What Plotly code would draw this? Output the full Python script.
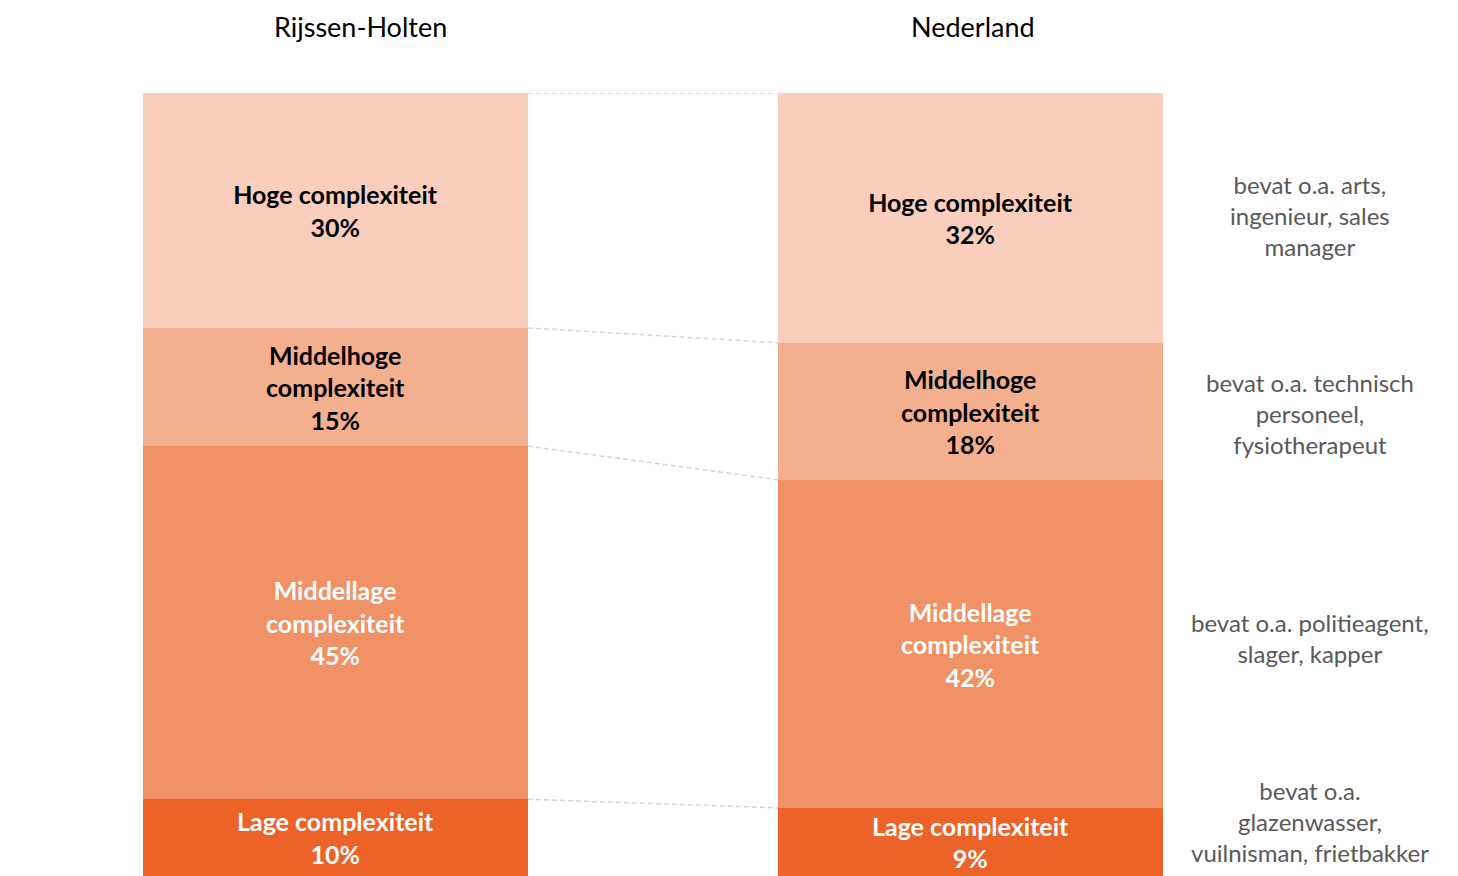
import plotly.graph_objects as go

regions = ["Rijssen-Holten", "Nederland"]
categories = ["Lage complexiteit", "Middellage complexiteit", "Middelhoge complexiteit", "Hoge complexiteit"]
label_lines = ["Lage complexiteit", "Middellage<br>complexiteit", "Middelhoge<br>complexiteit", "Hoge complexiteit"]
rijssen_values = [9.8, 45.1, 15.1, 30.0]
nederland_values = [8.7, 41.9, 17.5, 31.9]
examples = [
    "bevat o.a.<br>glazenwasser,<br>vuilnisman, frietbakker",
    "bevat o.a. politieagent,<br>slager, kapper",
    "bevat o.a. technisch<br>personeel,<br>fysiotherapeut",
    "bevat o.a. arts,<br>ingenieur, sales<br>manager",
]

colors = ["#EC6227", "#F09266", "#F4AF8F", "#F9CEBC"]
text_colors = ["white", "white", "black", "black"]
FONT = "Lato"
bar_w = 0.606
xs = [0, 1]

fig = go.Figure()
series = [rijssen_values, nederland_values]
for i, cat in enumerate(categories):
    vals = [s[i] for s in series]
    fig.add_trace(go.Bar(
        x=xs, y=vals, width=bar_w, name=cat,
        marker=dict(color=colors[i], line=dict(width=0)),
        text=[f"<b>{label_lines[i]}<br>{round(v)}%</b>" for v in vals],
        textposition="inside", insidetextanchor="middle",
        textfont=dict(family=FONT, size=25, color=text_colors[i]),
        hoverinfo="skip",
    ))

# connector lines
for k in range(1, len(categories) + 1):
    y0 = sum(rijssen_values[:k])
    y1 = sum(nederland_values[:k])
    fig.add_shape(type="line", xref="x", yref="y",
                  x0=xs[0] + bar_w / 2, x1=xs[1] - bar_w / 2, y0=y0, y1=y1,
                  line=dict(color="#D6D6D6", width=1.5, dash="5px,3px"))

# right side descriptions
ann_y = [6.9, 30.4, 59.1, 84.3]
for i, t in enumerate(examples):
    fig.add_annotation(x=1.0173, y=ann_y[i], xref="paper", yref="y", text=t,
                       showarrow=False, xanchor="center", yanchor="middle",
                       font=dict(family=FONT, size=24, color="#595959"))

# column titles
title_x = [0.04, 1.004]
for r, tx in zip(regions, title_x):
    fig.add_annotation(x=tx, y=1.1086, xref="x", yref="paper", text=r,
                       showarrow=False, xanchor="center", yanchor="top",
                       font=dict(family=FONT, size=27, color="black"))

fig.update_layout(
    barmode="stack", width=1458, height=876,
    margin=dict(l=10, r=178, t=85, b=8),
    paper_bgcolor="white", plot_bgcolor="white",
    showlegend=False, bargap=0,
    uniformtext=dict(minsize=25, mode="show"),
    xaxis=dict(range=[-0.5, 1.5], showticklabels=False, showgrid=False, zeroline=False,
               showline=True, linecolor="#EDEDED", linewidth=1, layer="below traces",
               fixedrange=True),
    yaxis=dict(range=[0, 100], visible=False, fixedrange=True),
)

fig.write_html("out.html")
